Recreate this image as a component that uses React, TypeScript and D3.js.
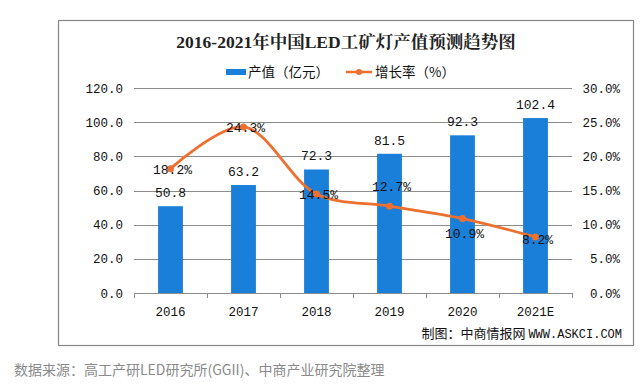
import React, { useEffect, useRef } from "react";
import * as d3 from "d3";

const years = ["2016", "2017", "2018", "2019", "2020", "2021E"];
const output = [50.8, 63.2, 72.3, 81.5, 92.3, 102.4];
const growth = [18.2, 24.3, 14.5, 12.7, 10.9, 8.2];
const leftTicks = [0, 20, 40, 60, 80, 100, 120];
const rightTicks = [0, 5, 10, 15, 20, 25, 30];
// vertical offset of each growth label relative to its point
const growthLabelDy = [0, 0, 0, -20, 14, 2];

const W = 641;
const H = 385;

const App: React.FC = () => {
    const svgRef = useRef<SVGSVGElement>(null);

    useEffect(() => {
        if (!svgRef.current) return;
        const svg = d3.select(svgRef.current);
        svg.selectAll("*").remove();

        const plot = { left: 134, right: 572, top: 88, bottom: 293 };
        const mono = "'Liberation Mono', 'DejaVu Sans Mono', monospace";
        const cjk = "'Noto Sans CJK SC', sans-serif";

        svg.append("rect").attr("width", W).attr("height", H).attr("fill", "#fff");

        // chart frame
        svg.append("rect")
            .attr("x", 58.5).attr("y", 20.5)
            .attr("width", 575).attr("height", 325)
            .attr("fill", "none").attr("stroke", "#868686").attr("stroke-width", 1.2);

        // title
        svg.append("text")
            .attr("x", 346).attr("y", 48)
            .attr("text-anchor", "middle")
            .attr("font-family", "'Liberation Serif', 'Noto Serif CJK SC', serif")
            .attr("font-weight", "bold")
            .attr("font-size", 17.5)
            .attr("fill", "#222")
            .text("2016-2021年中国LED工矿灯产值预测趋势图");

        // legend
        const lg = svg.append("g").attr("font-family", cjk).attr("font-size", 13.5).attr("fill", "#111");
        lg.append("rect").attr("x", 226).attr("y", 69).attr("width", 20).attr("height", 6).attr("fill", "#1a7fd8");
        lg.append("text").attr("x", 248).attr("y", 77).text("产值（亿元）");
        lg.append("line").attr("x1", 346).attr("x2", 372).attr("y1", 72).attr("y2", 72)
            .attr("stroke", "#ed7030").attr("stroke-width", 2.5);
        lg.append("circle").attr("cx", 359).attr("cy", 72).attr("r", 3).attr("fill", "#ed7030");
        lg.append("text").attr("x", 375).attr("y", 77).text("增长率（%）");

        const x = d3.scaleBand<string>().domain(years).range([plot.left, plot.right]).paddingInner(0.66).paddingOuter(0.33);
        const xc = (d: string) => (x(d) || 0) + x.bandwidth() / 2;
        const step = (plot.right - plot.left) / years.length;
        const yL = d3.scaleLinear().domain([0, 120]).range([plot.bottom, plot.top]);
        const yR = d3.scaleLinear().domain([0, 30]).range([plot.bottom, plot.top]);

        // gridlines
        svg.append("g").selectAll("line").data(leftTicks).join("line")
            .attr("x1", plot.left).attr("x2", plot.right)
            .attr("y1", (d) => Math.round(yL(d)) + 0.5).attr("y2", (d) => Math.round(yL(d)) + 0.5)
            .attr("stroke", "#8c8c8c").attr("stroke-width", 1);

        // x-axis ticks
        svg.append("g").selectAll("line").data(d3.range(years.length + 1)).join("line")
            .attr("x1", (i) => Math.round(plot.left + i * step) + 0.5)
            .attr("x2", (i) => Math.round(plot.left + i * step) + 0.5)
            .attr("y1", plot.bottom).attr("y2", plot.bottom + 5)
            .attr("stroke", "#8c8c8c");

        // left axis labels
        svg.append("g").selectAll("text").data(leftTicks).join("text")
            .attr("x", 123).attr("y", (d) => yL(d) + 4.5)
            .attr("text-anchor", "end")
            .attr("font-family", mono).attr("font-size", 12.5).attr("fill", "#111")
            .text((d) => d.toFixed(1));

        // right axis labels
        svg.append("g").selectAll("text").data(rightTicks).join("text")
            .attr("x", 620).attr("y", (d) => yR(d) + 4.5)
            .attr("text-anchor", "end")
            .attr("font-family", mono).attr("font-size", 12.5).attr("fill", "#111")
            .text((d) => d.toFixed(1) + "%");

        // year labels
        svg.append("g").selectAll("text").data(years).join("text")
            .attr("x", (d) => xc(d)).attr("y", 316)
            .attr("text-anchor", "middle")
            .attr("font-family", mono).attr("font-size", 12.5).attr("fill", "#111")
            .text((d) => d);

        // bars
        svg.append("g").selectAll("rect").data(output).join("rect")
            .attr("x", (_, i) => x(years[i]) || 0)
            .attr("y", (d) => yL(d))
            .attr("width", x.bandwidth())
            .attr("height", (d) => plot.bottom - yL(d))
            .attr("fill", "#1a7fd8");

        // bar labels
        svg.append("g").selectAll("text").data(output).join("text")
            .attr("x", (_, i) => xc(years[i])).attr("y", (d) => yL(d) - 9)
            .attr("text-anchor", "middle")
            .attr("font-family", mono).attr("font-size", 13).attr("fill", "#111")
            .text((d) => d.toFixed(1));

        // growth line
        const line = d3.line<number>()
            .x((_, i) => xc(years[i]))
            .y((d) => yR(d))
            .curve(d3.curveCatmullRom.alpha(0.5));
        svg.append("path").datum(growth)
            .attr("d", line)
            .attr("fill", "none").attr("stroke", "#ed7030").attr("stroke-width", 2.8);
        svg.append("g").selectAll("circle").data(growth).join("circle")
            .attr("cx", (_, i) => xc(years[i])).attr("cy", (d) => yR(d))
            .attr("r", 3.5).attr("fill", "#ed7030");

        // growth labels
        svg.append("g").selectAll("text").data(growth).join("text")
            .attr("x", (_, i) => xc(years[i]) + 2).attr("y", (d, i) => yR(d) + growthLabelDy[i] + 5)
            .attr("text-anchor", "middle")
            .attr("font-family", mono).attr("font-size", 13).attr("fill", "#111")
            .text((d) => d.toFixed(1) + "%");

        // credit
        const credit = svg.append("text")
            .attr("x", 622).attr("y", 338)
            .attr("text-anchor", "end")
            .attr("font-size", 12).attr("fill", "#111");
        credit.append("tspan").attr("font-family", cjk).attr("font-size", 13).text("制图：中商情报网 ");
        credit.append("tspan").attr("font-family", mono).text("WWW.ASKCI.COM");

        // source
        svg.append("text")
            .attr("x", 14).attr("y", 375)
            .attr("font-family", cjk).attr("font-size", 14).attr("fill", "#8a8a8a")
            .text("数据来源：高工产研LED研究所(GGII)、中商产业研究院整理");
    }, []);

    return (
        <svg ref={svgRef} width={W} height={H}
            style={{ position: "absolute", left: 0, top: 0, display: "block" }}></svg>
    );
};

export default App;
